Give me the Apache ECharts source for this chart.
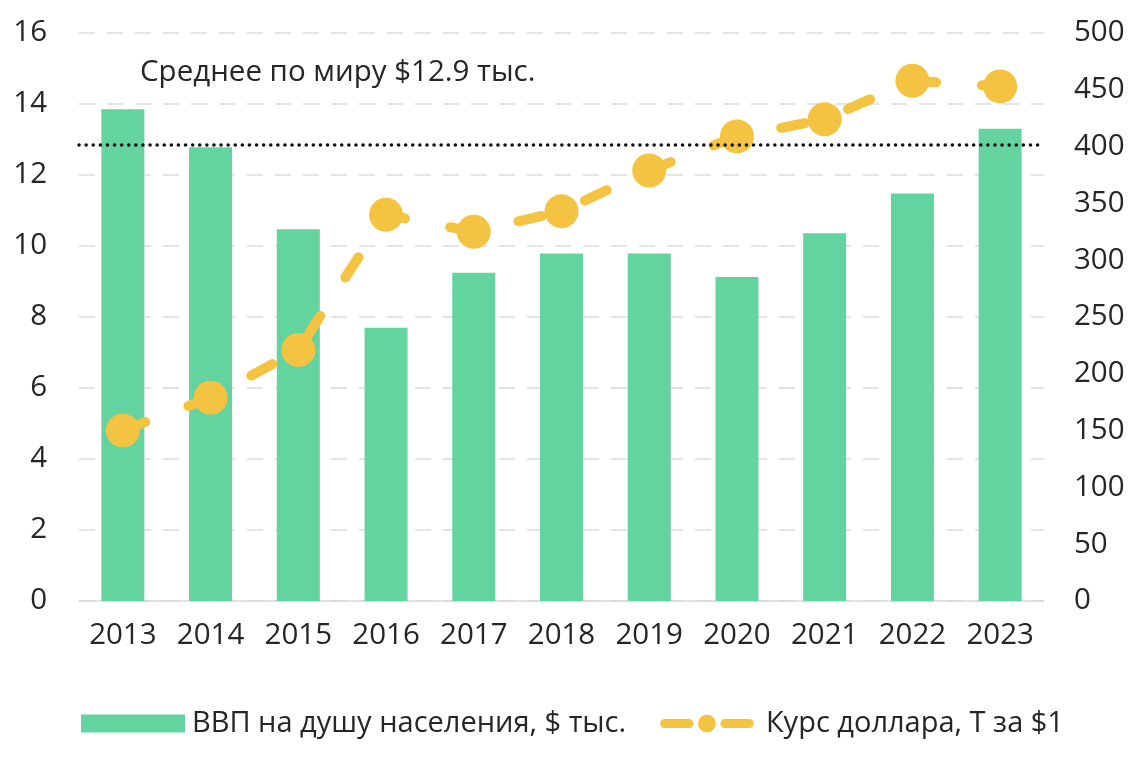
<!DOCTYPE html>
<html>
<head>
<meta charset="utf-8">
<script src="https://cdn.jsdelivr.net/npm/echarts@6/dist/echarts.min.js"></script>
<style>
html,body{margin:0;padding:0;background:#fff;}
#c{width:1148px;height:778px;}
</style>
</head>
<body>
<div id="c"></div>
<script>
const years = ['2013','2014','2015','2016','2017','2018','2019','2020','2021','2022','2023'];
const gdpPerCapita = [13.85, 12.78, 10.47, 7.7, 9.25, 9.79, 9.79, 9.13, 10.36, 11.48, 13.3];
const usdRate = [150, 179, 221, 340, 325, 343, 379, 409, 424, 458, 453];
const worldAverage = 12.85;
const gdpName = 'ВВП на душу населения, $ тыс.';
const rateName = 'Курс доллара, Т за $1';
const avgLabel = 'Среднее по миру $12.9 тыс.';

const FONT = '"Open Sans", "Noto Sans", sans-serif';
const FS = 29.5;
const TXT = '#262626';
const GREEN = '#63d3a0';
const YELLOW = '#f5c342';
const lineIcon = 'path://M0,10 A5,5 0 0 1 5,5 L32,5 A5,5 0 0 1 32,15 L5,15 A5,5 0 0 1 0,10 Z ' +
  'M42,10 A10,10 0 1 1 62,10 A10,10 0 1 1 42,10 Z ' +
  'M67,10 A5,5 0 0 1 72,5 L99,5 A5,5 0 0 1 99,15 L72,15 A5,5 0 0 1 67,10 Z';

const chart = echarts.init(document.getElementById('c'));
chart.setOption({
  animation: false,
  textStyle: {fontFamily: FONT},
  grid: {left: 79, right: 104, top: 33, bottom: 177, containLabel: false},
  legend: {
    left: 76, top: 704, itemGap: 34, itemWidth: 104, itemHeight: 18,
    textStyle: {fontFamily: FONT, fontSize: 29, color: TXT, padding: [0,0,0,2]},
    data: [
      {name: gdpName, icon: 'rect'},
      {name: rateName, icon: lineIcon, itemStyle: {color: YELLOW}}
    ]
  },
  graphic: [{
    type: 'text', left: 140, top: 58,
    style: {text: avgLabel, font: FS + 'px ' + FONT, fill: TXT}
  }],
  xAxis: {
    type: 'category', data: years,
    axisTick: {show: false},
    axisLine: {lineStyle: {color: '#d9d9d9', width: 1.5}},
    axisLabel: {fontSize: FS, color: TXT, margin: 20, fontFamily: FONT}
  },
  yAxis: [{
    type: 'value', min: 0, max: 16, interval: 2,
    axisLine: {show: false}, axisTick: {show: false},
    axisLabel: {fontSize: FS, color: TXT, margin: 32, fontFamily: FONT},
    splitLine: {lineStyle: {color: '#dcdcdc', width: 1.5, type: [16, 12]}}
  }, {
    type: 'value', min: 0, max: 500, interval: 50,
    axisLine: {show: false}, axisTick: {show: false},
    axisLabel: {fontSize: FS, color: TXT, margin: 30, fontFamily: FONT},
    splitLine: {show: false}
  }],
  series: [{
    name: gdpName, type: 'bar', data: gdpPerCapita, yAxisIndex: 0,
    barWidth: 43, itemStyle: {color: GREEN}, z: 2
  }, {
    name: rateName, type: 'line', data: usdRate, yAxisIndex: 1,
    symbol: 'circle', symbolSize: 34,
    itemStyle: {color: YELLOW},
    lineStyle: {color: YELLOW, width: 10, type: [24, 46], cap: 'round'},
    z: 3
  }, {
    name: 'avg', type: 'line', data: [], yAxisIndex: 0, z: 5,
    markLine: {
      silent: true, symbol: 'none', label: {show: false},
      lineStyle: {color: '#111', width: 3.5, type: [0.1, 7], cap: 'round'},
      data: [{yAxis: worldAverage}]
    }
  }]
});
</script>
</body>
</html>
